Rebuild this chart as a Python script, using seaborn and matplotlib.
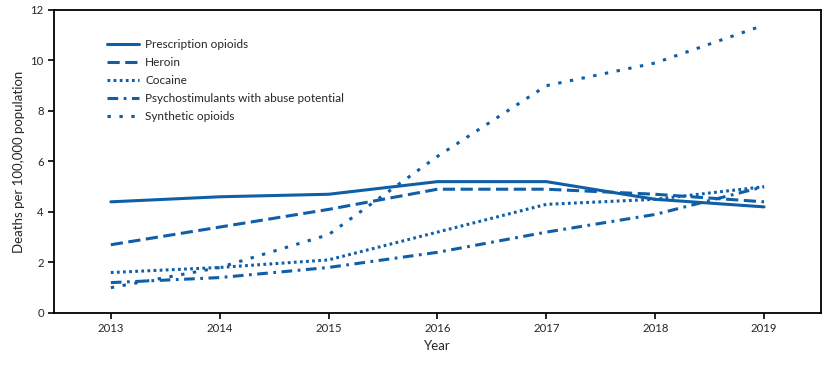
import pandas as pd
import matplotlib.pyplot as plt
import seaborn as sns

years = [2013, 2014, 2015, 2016, 2017, 2018, 2019]
prescription = [4.4, 4.6, 4.7, 5.2, 5.2, 4.5, 4.2]
heroin = [2.7, 3.4, 4.1, 4.9, 4.9, 4.7, 4.4]
cocaine = [1.6, 1.8, 2.1, 3.2, 4.3, 4.5, 5.0]
psychostim = [1.2, 1.4, 1.8, 2.4, 3.2, 3.9, 5.0]
synthetic = [1.0, 1.8, 3.1, 6.2, 9.0, 9.9, 11.4]

names = ["Prescription opioids", "Heroin", "Cocaine",
         "Psychostimulants with abuse potential", "Synthetic opioids"]
series = [prescription, heroin, cocaine, psychostim, synthetic]

rows = []
for n, vals in zip(names, series):
    for y, v in zip(years, vals):
        rows.append({"Year": y, "Drug": n, "Rate": v})
df = pd.DataFrame(rows)

sns.set_style("ticks")
plt.rcParams['font.family'] = ['Lato', 'DejaVu Sans']

blue = "#0f5fa8"
dashes = {
    "Prescription opioids": "",
    "Heroin": (4, 1.8),
    "Cocaine": (0.9, 1.1),
    "Psychostimulants with abuse potential": (3.5, 1.8, 0.9, 1.8),
    "Synthetic opioids": (1.1, 2.8),
}

fig = plt.figure(figsize=(8.34, 3.69), dpi=100)
ax = fig.add_axes([0.065, 0.152, 0.919, 0.821])
sns.lineplot(data=df, x="Year", y="Rate", hue="Drug", style="Drug",
             palette=[blue] * 5, dashes=dashes, linewidth=2.2, ax=ax)

ax.set_xlim(2012.48, 2019.52)
ax.set_ylim(0, 12)
ax.set_xticks(years)
ax.set_yticks(range(0, 13, 2))
ax.tick_params(labelsize=8.2, length=4, width=1.2, color="black")
for s in ax.spines.values():
    s.set_linewidth(1.3)
    s.set_color("black")
ax.set_xlabel("Year", fontsize=9.5)
ax.set_ylabel("Deaths per 100,000 population", fontsize=9.5)

leg = ax.legend(loc="upper left", bbox_to_anchor=(0.055, 0.94), frameon=False,
                fontsize=8.5, handlelength=2.7, labelspacing=0.6, handletextpad=0.55)

plt.savefig("out.png", dpi=100)
